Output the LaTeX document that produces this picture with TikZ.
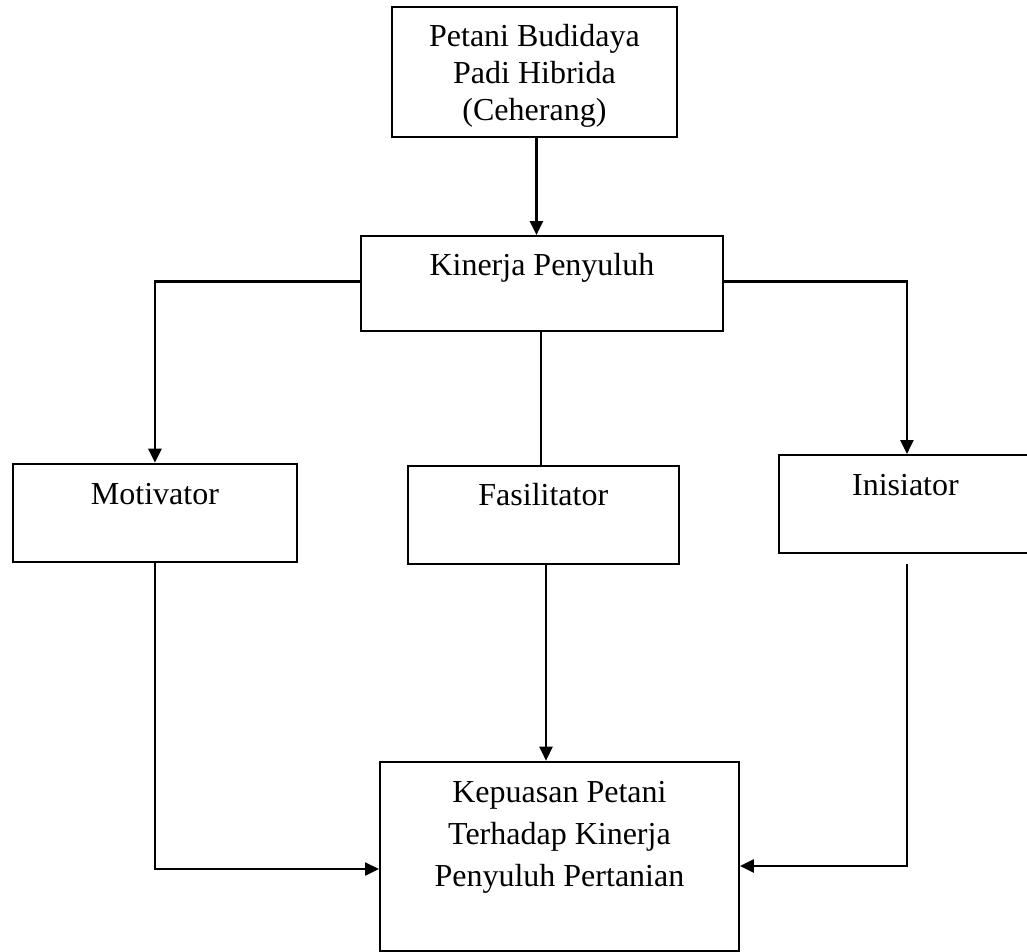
\documentclass[tikz,border=0pt]{standalone}
\usepackage{fontspec}
\setmainfont{Liberation Serif}
\usetikzlibrary{arrows.meta,calc}
\tikzset{
  box/.style={draw, line width=1.9pt, inner sep=0pt, anchor=north west, font=\fontsize{32}{37}\selectfont},
  link/.style={line width=2.2pt},
  arr/.style={line width=2.4pt, -{Triangle[length=14pt,width=13pt]}}
}
\begin{document}
\begin{tikzpicture}[x=1pt,y=-1pt]
\useasboundingbox (0,0) rectangle (1027,951);
\node[box] (top) at (391,6) {\parbox[t][130pt][t]{285pt}{\centering\fontsize{32}{37}\selectfont\rule{0pt}{40pt}Petani Budidaya\\Padi Hibrida\\(Ceherang)}};
\node[box] (kin) at (360,235) {\parbox[t][95pt][t]{362pt}{\centering\rule{0pt}{40pt}Kinerja Penyuluh}};
\node[box] (mot) at (12,462.7) {\parbox[t][98pt][t]{284pt}{\centering\rule{0pt}{41pt}Motivator}};
\node[box] (fas) at (406.7,465) {\parbox[t][97.7pt][t]{271.3pt}{\centering\rule{0pt}{40pt}Fasilitator}};
\node[box] (ini) at (778,454) {\parbox[t][97.7pt][t]{253pt}{\centering\rule{0pt}{41pt}Inisiator}};
\node[box] (kep) at (379,760.7) {\parbox[t][189.3pt][t]{359pt}{\centering\fontsize{32}{42}\selectfont\rule{0pt}{41pt}Kepuasan Petani\\Terhadap Kinerja\\Penyuluh Pertanian}};

\draw[arr] ([xshift=2pt]top.south) -- ([xshift=2pt]top.south |- kin.north);
\draw[arr] ([yshift=2pt]kin.west) -- ([yshift=2pt]kin.west -| mot.north) -- (mot.north);
\draw[arr] ([yshift=2pt]kin.east) -- ([yshift=2pt,xshift=1.5pt]kin.east -| ini.north) -- ([xshift=1.5pt]ini.north);
\draw[link] ([xshift=-1pt]kin.south) -- ([xshift=-1pt]kin.south |- fas.north);
\draw[arr] ([xshift=2.7pt]fas.south) -- ([xshift=2.7pt]fas.south |- kep.north);
\draw[arr] (mot.south) -- ([yshift=-12.7pt]mot.south |- kep.west) -- ([yshift=-12.7pt]kep.west);
\coordinate (inistart) at ([yshift=-10pt,xshift=1.5pt]ini.south);
\draw[arr] (inistart) -- ([yshift=-9.7pt]inistart |- kep.east) -- ([yshift=-9.7pt]kep.east);
\end{tikzpicture}
\end{document}
